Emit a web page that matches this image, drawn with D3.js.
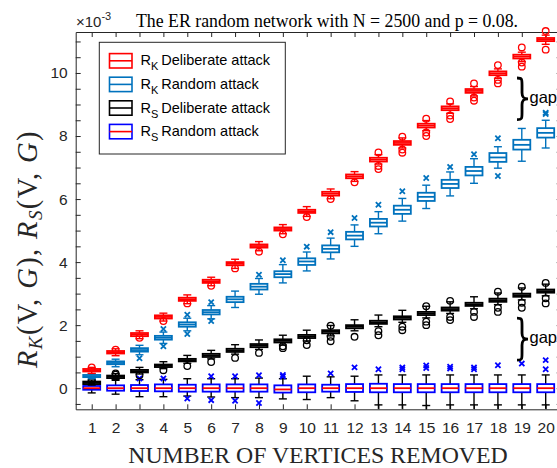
<!DOCTYPE html>
<html><head><meta charset="utf-8">
<script src="https://cdn.jsdelivr.net/npm/d3@7"></script>
<style>body{margin:0;background:#fff;overflow:hidden}</style>
</head><body><svg id="c" width="557" height="468"></svg>
<script>
// Number of vertices removed
const categories = [1,2,3,4,5,6,7,8,9,10,11,12,13,14,15,16,17,18,19,20];
const yMajorTicks = [0,2,4,6,8,10];
const yMinorTicks = [-0.5,0.5,1,1.5,2.5,3,3.5,4.5,5,5.5,6.5,7,7.5,8.5,9,9.5,10.5,11];

// Box statistics per category: [lower whisker, Q1, median, Q3, upper whisker] (x 10^-3)
const rkDeliberate = [
  [0.47,0.53,0.57,0.61,0.66],[1.03,1.10,1.14,1.18,1.25],[1.57,1.65,1.70,1.75,1.82],
  [2.13,2.21,2.26,2.31,2.38],[2.68,2.77,2.82,2.87,2.96],[3.25,3.34,3.39,3.44,3.52],
  [3.80,3.90,3.95,4.00,4.09],[4.36,4.46,4.51,4.56,4.65],[4.90,5.00,5.05,5.10,5.19],
  [5.45,5.56,5.61,5.66,5.76],[6.01,6.11,6.17,6.23,6.32],[6.56,6.66,6.72,6.78,6.87],
  [7.11,7.19,7.25,7.31,7.41],[7.62,7.72,7.78,7.84,7.94],[8.17,8.27,8.33,8.39,8.49],
  [8.72,8.82,8.88,8.94,9.02],[9.27,9.37,9.43,9.49,9.57],[9.83,9.93,9.99,10.05,10.13],
  [10.36,10.46,10.52,10.58,10.66],[10.91,11.01,11.06,11.11,11.20]
];
const rkDeliberateOut = [
  [0.66],[1.22],[1.60],[2.13],[2.69],[3.25],[3.80],[4.33],[4.88],[5.43],
  [6.00],[6.53],[7.48,7.05,6.95],[7.98,7.57,7.47],[8.55,8.11,8.00],
  [9.10,8.65,8.54],[9.67,9.22,9.12],[10.25,9.78,9.67],[10.81,10.33,10.20],[11.33,10.74]
];

const rkRandom = [
  [0.30,0.35,0.38,0.42,0.46],[0.68,0.76,0.80,0.85,0.92],[1.06,1.16,1.21,1.27,1.36],
  [1.42,1.54,1.60,1.66,1.78],[1.82,1.95,2.02,2.09,2.22],[2.20,2.34,2.41,2.48,2.62],
  [2.56,2.73,2.82,2.90,3.08],[2.98,3.13,3.22,3.31,3.48],[3.34,3.52,3.62,3.71,3.92],
  [3.72,3.91,4.02,4.12,4.32],[4.10,4.31,4.42,4.53,4.76],[4.50,4.72,4.84,4.96,5.18],
  [4.90,5.13,5.25,5.37,5.60],[5.30,5.53,5.66,5.79,6.02],[5.70,5.94,6.07,6.20,6.44],
  [6.10,6.35,6.48,6.61,6.86],[6.50,6.75,6.89,7.02,7.28],[6.98,7.18,7.32,7.46,7.66],
  [7.20,7.57,7.72,7.88,8.24],[7.62,7.95,8.10,8.25,8.50]
];
const rkRandomOut = [
  [],[],[0.95],[1.88,1.33],[2.33,1.72],[2.73,2.13],[],[3.60],[4.06],[4.49],
  [4.95],[5.40],[5.82],[6.25],[6.67],[7.02],[7.42],[7.93,6.73],[],[8.70,8.74]
];

const rsDeliberate = [
  [0.10,0.13,0.17,0.21,0.26],[0.28,0.32,0.36,0.40,0.46],[0.45,0.50,0.54,0.58,0.66],
  [0.62,0.67,0.71,0.75,0.84],[0.79,0.85,0.89,0.93,1.04],[0.93,0.99,1.04,1.09,1.20],
  [1.08,1.15,1.20,1.25,1.38],[1.23,1.30,1.35,1.40,1.53],[1.37,1.45,1.50,1.55,1.68],
  [1.50,1.59,1.64,1.69,1.84],[1.66,1.74,1.79,1.84,1.99],[1.82,1.90,1.95,2.00,2.17],
  [1.95,2.04,2.09,2.14,2.32],[2.09,2.18,2.23,2.28,2.47],[2.23,2.32,2.37,2.42,2.60],
  [2.37,2.46,2.51,2.56,2.74],[2.52,2.61,2.66,2.71,2.90],[2.65,2.74,2.79,2.84,3.02],
  [2.80,2.90,2.95,3.00,3.18],[2.93,3.03,3.08,3.13,3.30]
];
const rsDeliberateOut = [
  [0.25,0.23],[0.47,0.43],[0.41],[0.57],[0.70],[0.83],[0.96],[1.12],[1.27,1.33],[1.52,1.37],
  [1.98,1.63,1.49],[1.63],[1.81,1.68],[1.95,1.84],[2.60,2.11,2.00],
  [2.77,2.26,2.16],[2.42,2.26],[3.06,2.55,2.42],[3.22,2.71,2.55],[3.34,2.85,2.69]
];

const rsRandom = [
  [-0.15,-0.05,0.00,0.07,0.18],[-0.19,-0.08,0.00,0.09,0.25],[-0.27,-0.09,0.00,0.10,0.27],
  [-0.27,-0.10,0.00,0.12,0.28],[-0.25,-0.11,0.00,0.11,0.30],[-0.28,-0.11,0.00,0.12,0.30],
  [-0.30,-0.11,0.00,0.12,0.30],[-0.30,-0.11,0.00,0.12,0.32],[-0.34,-0.14,-0.04,0.09,0.30],
  [-0.36,-0.13,0.00,0.12,0.38],[-0.30,-0.11,0.00,0.11,0.36],[-0.40,-0.12,0.00,0.13,0.38],
  [-0.53,-0.13,0.00,0.14,0.42],[-0.53,-0.13,0.00,0.13,0.42],[-0.55,-0.13,0.00,0.13,0.42],
  [-0.53,-0.13,0.00,0.13,0.42],[-0.53,-0.13,0.00,0.13,0.42],[-0.53,-0.13,0.00,0.13,0.42],
  [-0.53,-0.13,0.00,0.13,0.42],[-0.53,-0.13,0.00,0.13,0.42]
];
const rsRandomOut = [
  [],[],[0.31],[0.31],[-0.33],[0.38,-0.38],[0.38,-0.40],[0.41,-0.47],[0.37,0.42],[],
  [0.47],[0.66],[0.60],[0.60,0.66],[0.64,0.72],[0.62,0.68],[0.60,0.66],[0.73],[0.78],[0.89,0.60]
];

// Annotated gaps: [category position, top value, bottom value]
const gaps = [[18.8, 9.84, 8.52], [18.8, 2.22, 0.89]];

const legendItems = [
  {sym:"R", sub:"K", text:"Deliberate attack", box:"#FF0000", med:"#FF0000"},
  {sym:"R", sub:"K", text:"Random attack", box:"#0072BD", med:"#0072BD"},
  {sym:"R", sub:"S", text:"Deliberate attack", box:"#000000", med:"#000000"},
  {sym:"R", sub:"S", text:"Random attack", box:"#0000FF", med:"#FF0000"}
];

const svg = d3.select("#c");
const sans = "'Liberation Sans', Arial, sans-serif";
const serif = "'Liberation Serif', 'Times New Roman', serif";
const axisColor = "#262626";

const x = d3.scaleLinear().domain([0.33, 20.67]).range([75.7, 561.7]);
const y = d3.scaleLinear().domain([-0.67, 11.3]).range([409.3, 32]);
const [X0, X1] = x.range();
const [Y0, Y1] = y.range();

// axes with inward ticks
const yAll = yMajorTicks.concat(yMinorTicks);
function styleAxis(g) {
  g.select(".domain").attr("stroke", axisColor).attr("stroke-width", 1);
  g.selectAll(".tick line").attr("stroke", axisColor).attr("stroke-width", 1);
  g.selectAll(".tick text").attr("fill", axisColor).attr("font-family", sans).attr("font-size", 15.5);
}
svg.append("g").attr("transform", `translate(${X0},0)`)
  .call(d3.axisLeft(y).tickValues(yAll).tickSizeInner(-5).tickSizeOuter(0).tickPadding(8)
    .tickFormat(d => yMajorTicks.includes(d) ? String(d) : ""))
  .call(styleAxis);
svg.append("g").attr("transform", `translate(${X1},0)`)
  .call(d3.axisRight(y).tickValues(yAll).tickSizeInner(-5).tickSizeOuter(0).tickFormat(""))
  .call(styleAxis);
svg.append("g").attr("transform", `translate(0,${Y0})`)
  .call(d3.axisBottom(x).tickValues(categories).tickSizeInner(-5).tickSizeOuter(0).tickPadding(13)
    .tickFormat(d => String(d)))
  .call(styleAxis);
svg.append("g").attr("transform", `translate(0,${Y1})`)
  .call(d3.axisTop(x).tickValues(categories).tickSizeInner(-5).tickSizeOuter(0).tickFormat(""))
  .call(styleAxis);

// boxplot series
const bw = 17, cap = 4;
function drawSeries(stats, outs, o) {
  const g = svg.append("g");
  stats.forEach((s, i) => {
    const cx = x(categories[i]);
    const [lo, q1, med, q3, hi] = s;
    const wg = g.append("g").attr("stroke", o.whisk).attr("stroke-width", 1.4);
    wg.append("line").attr("x1", cx).attr("x2", cx).attr("y1", y(q3)).attr("y2", y(hi));
    wg.append("line").attr("x1", cx).attr("x2", cx).attr("y1", y(q1)).attr("y2", y(lo) + (o.tail && lo < -0.5 ? 4 : 0));
    wg.append("line").attr("x1", cx - cap).attr("x2", cx + cap).attr("y1", y(hi)).attr("y2", y(hi));
    wg.append("line").attr("x1", cx - cap).attr("x2", cx + cap).attr("y1", y(lo)).attr("y2", y(lo));
    g.append("rect").attr("x", cx - bw / 2).attr("width", bw)
      .attr("y", y(q3)).attr("height", y(q1) - y(q3))
      .attr("fill", "none").attr("stroke", o.box).attr("stroke-width", 1.8);
    g.append("line").attr("x1", cx - bw / 2).attr("x2", cx + bw / 2)
      .attr("y1", y(med)).attr("y2", y(med)).attr("stroke", o.med).attr("stroke-width", 1.8);
    (outs[i] || []).forEach(v => marker(g, o.marker, cx, y(v), o.mcolor));
  });
}
function marker(g, kind, cx, cy, color) {
  if (kind === "o") {
    g.append("circle").attr("cx", cx).attr("cy", cy).attr("r", 3.3)
      .attr("fill", "none").attr("stroke", color).attr("stroke-width", 1.3);
  } else {
    const s = 2.6;
    g.append("path").attr("d", `M${cx - s},${cy - s}L${cx + s},${cy + s}M${cx - s},${cy + s}L${cx + s},${cy - s}`)
      .attr("stroke", color).attr("stroke-width", 1.8);
  }
}

drawSeries(rsRandom, rsRandomOut, {box:"#0000FF", med:"#FF0000", whisk:"#000000", marker:"x", mcolor:"#0000FF", tail:true});
drawSeries(rsDeliberate, rsDeliberateOut, {box:"#000000", med:"#000000", whisk:"#000000", marker:"o", mcolor:"#000000"});
drawSeries(rkRandom, rkRandomOut, {box:"#0072BD", med:"#0072BD", whisk:"#0072BD", marker:"x", mcolor:"#0072BD"});
drawSeries(rkDeliberate, rkDeliberateOut, {box:"#FF0000", med:"#FF0000", whisk:"#FF0000", marker:"o", mcolor:"#FF0000"});

// gap braces
gaps.forEach(([c, top, bot]) => {
  const xl = x(c), t = y(top), b = y(bot), m = (t + b) / 2, xs = xl + 5, xr = xl + 11;
  svg.append("path")
    .attr("d", `M${xl},${t} C${xs},${t} ${xs},${t + 1} ${xs},${t + 7} L${xs},${m - 6} C${xs},${m - 1} ${xs + 2},${m} ${xr},${m} ` +
               `C${xs + 2},${m} ${xs},${m + 1} ${xs},${m + 6} L${xs},${b - 7} C${xs},${b - 1} ${xs},${b} ${xl},${b}`)
    .attr("fill", "none").attr("stroke", "#000").attr("stroke-width", 2.8);
  svg.append("text").attr("x", xr + 1.5).attr("y", m + 4).attr("font-family", sans).attr("font-size", 16.5)
    .attr("fill", "#000").text("gap");
});

// legend
const lg = svg.append("g");
lg.append("rect").attr("x", 99.3).attr("y", 42.3).attr("width", 186).attr("height", 111.7)
  .attr("fill", "#fff").attr("stroke", axisColor).attr("stroke-width", 1);
legendItems.forEach((it, i) => {
  const cy = 60.8 + i * 23.6;
  lg.append("rect").attr("x", 109.5).attr("y", cy - 7.2).attr("width", 22.5).attr("height", 14.4)
    .attr("fill", "none").attr("stroke", it.box).attr("stroke-width", 1.6);
  lg.append("line").attr("x1", 109.5).attr("x2", 132).attr("y1", cy).attr("y2", cy)
    .attr("stroke", it.med).attr("stroke-width", 1.6);
  const t = lg.append("text").attr("x", 140.5).attr("y", cy + 4.5).attr("font-family", sans)
    .attr("font-size", 14.5).attr("fill", "#000");
  t.append("tspan").text(it.sym);
  t.append("tspan").attr("dy", 5).attr("font-size", 11).text(it.sub);
  t.append("tspan").attr("dy", -5).text("\u2009" + it.text);
});

// title and exponent
const ex = svg.append("text").attr("x", 76).attr("y", 26.5).attr("font-family", sans)
  .attr("font-size", 15).attr("fill", axisColor);
ex.append("tspan").text("\u00d710");
ex.append("tspan").attr("dy", -7).attr("font-size", 11).text("-3");
svg.append("text").attr("x", 136).attr("y", 26.5).attr("font-family", serif).attr("font-size", 17.8)
  .attr("fill", "#000").text("The ER random network with N = 2500 and p = 0.08.");

// x axis title
svg.append("text").attr("x", 318).attr("y", 463).attr("text-anchor", "middle")
  .attr("font-family", serif).attr("font-size", 23.8).attr("fill", axisColor)
  .text("NUMBER OF VERTICES REMOVED");

// y axis title (math style)
const yl = svg.append("text").attr("transform", "translate(37,249) rotate(-90)")
  .attr("text-anchor", "middle").attr("font-family", serif).attr("font-size", 28.5)
  .attr("letter-spacing", 1.4).attr("fill", axisColor);
function mathPart(txt, italic) {
  const s = yl.append("tspan").text(txt);
  if (italic) s.attr("font-style", "italic");
  return s;
}
mathPart("R", true);
yl.append("tspan").attr("font-style", "italic").attr("font-size", 19).attr("dy", 5).text("K");
yl.append("tspan").attr("dy", -5).text("(V, ");
mathPart("G", true);
mathPart("), ", false);
mathPart("R", true);
yl.append("tspan").attr("font-style", "italic").attr("font-size", 19).attr("dy", 5).text("S");
yl.append("tspan").attr("dy", -5).text("(V, ");
mathPart("G", true);
mathPart(")", false);
</script></body></html>
